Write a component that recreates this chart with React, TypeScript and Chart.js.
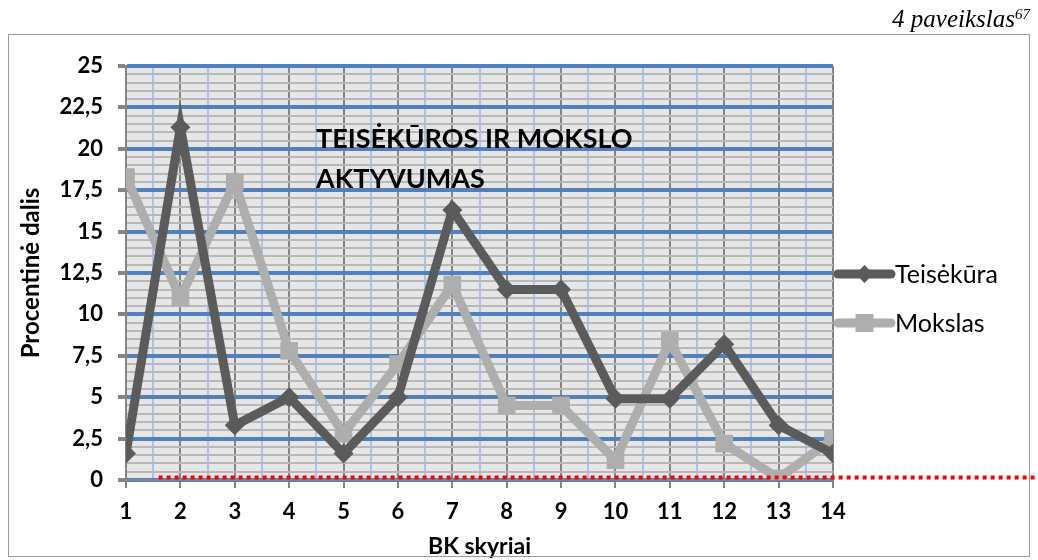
import React, { useEffect, useRef } from "react";
import { Chart, registerables } from "chart.js";

Chart.register(...registerables);

const categories = [1, 2, 3, 4, 5, 6, 7, 8, 9, 10, 11, 12, 13, 14];
const teisekura = [1.6, 21.3, 3.3, 5.0, 1.6, 5.0, 16.3, 11.5, 11.5, 4.9, 4.9, 8.2, 3.3, 1.6];
const mokslas = [18.3, 11.0, 18.0, 7.8, 2.8, 7.0, 11.8, 4.5, 4.5, 1.2, 8.4, 2.2, 0.1, 2.5];
const seriesNames = ["Teisėkūra", "Mokslas"];
const chartTitleLines = ["TEISĖKŪROS IR MOKSLO", "AKTYVUMAS"];
const yAxisTitle = "Procentinė dalis";
const xAxisTitle = "BK skyriai";
const captionMain = "4 paveikslas";
const captionSup = "67";

const DARK = "#5b5b5b";
const LIGHT = "#aeaeae";
const FONT = "Lato";

const decor = {
  id: "decor",
  beforeDraw(chart: any) {
    const { ctx, chartArea: a } = chart;
    ctx.save();
    ctx.fillStyle = "#e6e6e6";
    ctx.fillRect(a.left, a.top, a.right - a.left, a.bottom - a.top);
    ctx.restore();
  },
  afterDraw(chart: any) {
    const { ctx, chartArea: a, scales } = chart;
    const W = chart.width;
    ctx.save();
    // frame
    ctx.strokeStyle = "#9a9a9a";
    ctx.lineWidth = 1;
    ctx.strokeRect(8.5, 34.5, W - 17, 522);
    // caption
    ctx.fillStyle = "#000";
    ctx.textBaseline = "alphabetic";
    ctx.font = "italic 15px 'Liberation Serif'";
    const supW = ctx.measureText(captionSup).width;
    ctx.textAlign = "right";
    ctx.fillText(captionSup, W - 8, 19);
    ctx.font = "italic 25px 'Liberation Serif'";
    ctx.fillText(captionMain, W - 8 - supW, 27);
    // title in plot
    ctx.textAlign = "left";
    ctx.font = `bold 27px ${FONT}`;
    ctx.fillText(chartTitleLines[0], a.left + 190, 148);
    ctx.fillText(chartTitleLines[1], a.left + 190, 188);
    // red dotted line
    const y = scales.y.getPixelForValue(0.15);
    ctx.strokeStyle = "#ff0000";
    ctx.lineWidth = 4;
    ctx.setLineDash([4, 4]);
    ctx.beginPath();
    ctx.moveTo(scales.x.getPixelForValue(1.6), y);
    ctx.lineTo(W, y);
    ctx.stroke();
    ctx.setLineDash([]);
    // legend
    const items = [
      { name: seriesNames[0], color: DARK, style: "diamond", y: 274 },
      { name: seriesNames[1], color: LIGHT, style: "square", y: 323 },
    ];
    for (const it of items) {
      const x0 = a.right + 5;
      const x1 = a.right + 58;
      ctx.strokeStyle = it.color;
      ctx.lineWidth = 9;
      ctx.lineCap = "round";
      ctx.beginPath();
      ctx.moveTo(x0, it.y);
      ctx.lineTo(x1, it.y);
      ctx.stroke();
      const cx = (x0 + x1) / 2;
      ctx.fillStyle = it.color;
      ctx.beginPath();
      if (it.style === "diamond") {
        ctx.moveTo(cx, it.y - 9);
        ctx.lineTo(cx + 9, it.y);
        ctx.lineTo(cx, it.y + 9);
        ctx.lineTo(cx - 9, it.y);
        ctx.closePath();
      } else {
        ctx.rect(cx - 9, it.y - 9, 18, 18);
      }
      ctx.fill();
      ctx.fillStyle = "#000";
      ctx.font = `25px ${FONT}`;
      ctx.textBaseline = "middle";
      ctx.fillText(it.name, x1 + 4, it.y + 1);
    }
    ctx.restore();
  },
};

export default function App() {
  const ref = useRef<HTMLCanvasElement>(null);
  useEffect(() => {
    if (!ref.current) return;
    const isInt = (v: number) => Math.abs(v - Math.round(v)) < 1e-6;
    const isMajorY = (v: number) => Math.abs(v / 2.5 - Math.round(v / 2.5)) < 1e-6;
    const chart = new Chart(ref.current, {
      type: "line",
      data: {
        datasets: [
          {
            label: seriesNames[0],
            data: categories.map((c, i) => ({ x: c, y: teisekura[i] })),
            borderColor: DARK,
            backgroundColor: DARK,
            borderWidth: 9,
            pointStyle: "rectRot",
            pointRadius: 10,
            pointBorderWidth: 0,
            tension: 0,
          },
          {
            label: seriesNames[1],
            data: categories.map((c, i) => ({ x: c, y: mokslas[i] })),
            borderColor: LIGHT,
            backgroundColor: LIGHT,
            borderWidth: 9,
            pointStyle: "rect",
            pointRadius: 12.5,
            pointBorderWidth: 0,
            tension: 0,
          },
        ],
      },
      options: {
        animation: false,
        responsive: false,
        devicePixelRatio: 1,
        layout: { padding: { left: 17, right: 205, top: 66, bottom: 0 } },
        plugins: { legend: { display: false }, tooltip: { enabled: false } },
        scales: {
          x: {
            type: "linear",
            min: 1,
            max: 14,
            afterFit: (s: any) => {
              s.height = 80;
            },
            afterBuildTicks: (s: any) => {
              const t = [];
              for (let v = 1; v <= 14.0001; v += 0.5) t.push({ value: v });
              s.ticks = t;
            },
            ticks: {
              autoSkip: false,
              maxRotation: 0,
              padding: 11,
              color: "#000",
              font: { family: FONT, weight: "bold", size: 22 },
              callback: (v: any) => (isInt(Number(v)) ? String(v) : ""),
            },
            grid: {
              color: (c: any) => (isInt(c.tick.value) ? "#858585" : "#a9c3ec"),
              lineWidth: 2,
              tickColor: (c: any) => (isInt(c.tick.value) ? "#858585" : "rgba(0,0,0,0)"),
              tickLength: 8,
            },
            border: { color: "#858585", width: 2 },
            title: {
              display: true,
              text: xAxisTitle,
              color: "#000",
              font: { family: FONT, weight: "bold", size: 23 },
              padding: { top: 0, bottom: 0 },
            },
          },
          y: {
            min: 0,
            max: 25,
            afterFit: (s: any) => {
              s.width = 109;
            },
            afterBuildTicks: (s: any) => {
              const t = [];
              for (let i = 0; i <= 50; i++) t.push({ value: i * 0.5 });
              s.ticks = t;
            },
            ticks: {
              autoSkip: false,
              padding: 15,
              color: "#000",
              font: { family: FONT, weight: "bold", size: 22 },
              callback: (v: any) => {
                const n = Number(v);
                return isMajorY(n) ? String(n).replace(".", ",") : "";
              },
            },
            grid: {
              color: (c: any) => (isMajorY(c.tick.value) ? "#4f81bd" : "#b8b8b8"),
              lineWidth: (c: any) => (isMajorY(c.tick.value) ? 4 : 2),
              tickColor: (c: any) => (isMajorY(c.tick.value) ? "#858585" : "rgba(0,0,0,0)"),
              tickLength: 8,
            },
            border: { color: "#858585", width: 2 },
            title: {
              display: true,
              text: yAxisTitle,
              color: "#000",
              font: { family: FONT, weight: "bold", size: 24 },
              padding: { top: 0, bottom: 0 },
            },
          },
        },
      },
      plugins: [decor],
    } as any);
    return () => chart.destroy();
  }, []);
  return (
    <div style={{ position: "absolute", left: 0, top: 0, width: 1038, height: 560, background: "#fff" }}>
      <canvas ref={ref} width={1038} height={560} style={{ width: 1038, height: 560 }} />
    </div>
  );
}
